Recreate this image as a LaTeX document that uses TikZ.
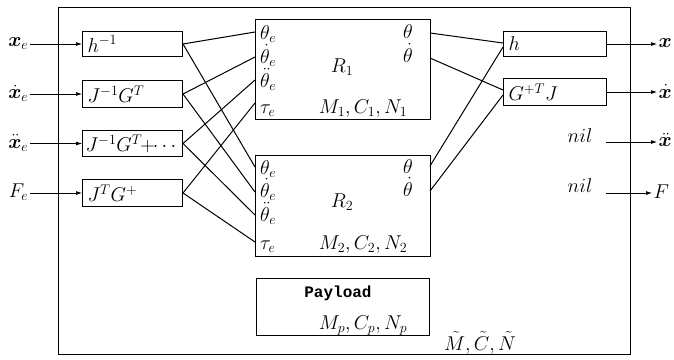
\RequirePackage{fix-cm}
\documentclass[tikz,border=0pt]{standalone}
\usepackage{amsmath,bm}
\usepackage{fontspec}
\newfontfamily\paymono{Liberation Mono}
\usetikzlibrary{arrows.meta,calc}
\begin{document}
\begin{tikzpicture}[x=1pt,y=-1pt,
  every node/.style={font=\fontsize{20}{24}\selectfont},
  box/.style={draw,line width=1pt,anchor=north west,inner xsep=5pt,inner ysep=0pt,align=left},
  lbl/.style={inner sep=1.5pt},
  wire/.style={line width=1pt},
  arr/.style={line width=0.7pt,-{Latex[length=6pt,width=4pt]}}]
\useasboundingbox (0,0) rectangle (674,359);
% frame
\node[draw,line width=1pt,anchor=north west,minimum width=572pt,minimum height=347pt,inner sep=0pt] (frame) at (58,7) {};
% left boxes
\node[box,text width=90pt,minimum height=25pt] (b1) at (82,31) {$h^{-1}$};
\node[box,text width=90pt,minimum height=27pt] (b2) at (82,80) {$J^{-1}G^T$};
\node[box,text width=90pt,minimum height=26pt,inner xsep=3pt,text width=94pt] (b3) at (82,130) {$J^{-1}G^T\!+\!\cdots$};
\node[box,text width=90pt,minimum height=27pt] (b4) at (82,179) {$J^TG^+$};
% inputs
\node[lbl,anchor=east] (xe) at (30,43.5) {$\bm{x}_e$};
\node[lbl,anchor=east] (xde) at (30,93.5) {$\dot{\bm{x}}_e$};
\node[lbl,anchor=east] (xdde) at (30,143) {$\ddot{\bm{x}}_e$};
\node[lbl,anchor=east] (fe) at (30,192.5) {$F_e$};
\draw[arr] (b1.west -| xe.east) -- (b1.west);
\draw[arr] (b2.west -| xde.east) -- (b2.west);
\draw[arr] (b3.west -| xdde.east) -- (b3.west);
\draw[arr] (b4.west -| fe.east) -- (b4.west);
% robot boxes
\node[draw,line width=1pt,anchor=north west,minimum width=175pt,minimum height=100pt,inner sep=0pt] (R1) at (255,19) {};
\node[draw,line width=1pt,anchor=north west,minimum width=175pt,minimum height=101pt,inner sep=0pt] (R2) at (255,155) {};
\node[draw,line width=1pt,anchor=north west,minimum width=173pt,minimum height=57pt,inner sep=0pt] (P) at (256,278) {};
% R1 labels
\node[anchor=base west,inner sep=0pt] (r1a) at (260,39) {$\theta_e$};
\node[anchor=base west,inner sep=0pt] (r1b) at (260,63) {$\dot\theta_e$};
\node[anchor=base west,inner sep=0pt] (r1c) at (260,87) {$\ddot\theta_e$};
\node[anchor=base west,inner sep=0pt] (r1d) at (260,113) {$\tau_e$};
\node[anchor=base,inner sep=0pt] (r1o1) at (408,38) {$\theta$};
\node[anchor=base,inner sep=0pt] (r1o2) at (408,62) {$\dot\theta$};
\node[anchor=base,inner sep=0pt] (r1n) at (342,72) {$R_1$};
\node[anchor=base,inner sep=0pt] (r1m) at (363,113) {$M_1,C_1,N_1$};
% R2 labels
\node[anchor=base west,inner sep=0pt] (r2a) at (260,174) {$\theta_e$};
\node[anchor=base west,inner sep=0pt] (r2b) at (260,197) {$\dot\theta_e$};
\node[anchor=base west,inner sep=0pt] (r2c) at (260,221) {$\ddot\theta_e$};
\node[anchor=base west,inner sep=0pt] (r2d) at (260,249) {$\tau_e$};
\node[anchor=base,inner sep=0pt] (r2o1) at (408,173) {$\theta$};
\node[anchor=base,inner sep=0pt] (r2o2) at (408,196) {$\dot\theta$};
\node[anchor=base,inner sep=0pt] (r2n) at (342,207) {$R_2$};
\node[anchor=base,inner sep=0pt] (r2m) at (363,249) {$M_2,C_2,N_2$};
% payload labels
\node[inner sep=0pt,font=\fontsize{16}{19}\selectfont\paymono\bfseries] (pn) at (338,293) {Payload};
\node[anchor=base,inner sep=0pt] (pm) at (363,329) {$M_p,C_p,N_p$};
% ports
\coordinate (p1a) at (255,32);  \coordinate (p1b) at (255,57);
\coordinate (p1c) at (255,80);  \coordinate (p1d) at (255,103);
\coordinate (p2a) at (255,167); \coordinate (p2b) at (255,192);
\coordinate (p2c) at (255,215); \coordinate (p2d) at (255,242);
\coordinate (q1a) at (430,33);  \coordinate (q1b) at (430,58);
\coordinate (q2a) at (430,166); \coordinate (q2b) at (430,191);
% left wires
\draw[wire] (b1.east) -- (p1a);  \draw[wire] (b1.east) -- (p2a);
\draw[wire] (b2.east) -- (p1b);  \draw[wire] (b2.east) -- (p2b);
\draw[wire] (b3.east) -- (p1c);  \draw[wire] (b3.east) -- (p2c);
\draw[wire] (b4.east) -- (p1d);  \draw[wire] (b4.east) -- (p2d);
% right boxes
\node[box,text width=93pt,minimum height=25pt] (h) at (503,31) {$h$};
\node[box,text width=93pt,minimum height=27pt] (g) at (503,78) {$G^{+T}J$};
\draw[wire] (q1a) -- ($(h.west)+(0,-1)$);
\draw[wire] (q2a) -- ($(h.west)+(0,3)$);
\draw[wire] (q1b) -- ($(g.west)+(0,-2)$);
\draw[wire] (q2b) -- ($(g.west)+(0,3)$);
% outputs
\node[lbl,anchor=west] (ox) at (657,43.5) {$\bm{x}$};
\node[lbl,anchor=west] (oxd) at (657,91.5) {$\dot{\bm{x}}$};
\node[lbl,anchor=west] (oxdd) at (657,140) {$\ddot{\bm{x}}$};
\node[lbl,anchor=west] (of) at (652,192) {$F$};
\draw[arr] (h.east) -- (h.east -| ox.west);
\draw[arr] (g.east) -- (g.east -| oxd.west);
\coordinate (n1s) at (606,142);
\coordinate (n2s) at (606,193);
\draw[arr] (n1s) -- (n1s -| oxdd.west);
\draw[arr] (n2s) -- (n2s -| of.west);
\node[anchor=base,inner sep=0pt] (nil1) at (580,142) {$nil$};
\node[anchor=base,inner sep=0pt] (nil2) at (580,192) {$nil$};
\node[anchor=base,inner sep=0pt] (mcn) at (480,350) {$\tilde M,\tilde C,\tilde N$};
\end{tikzpicture}
\end{document}
